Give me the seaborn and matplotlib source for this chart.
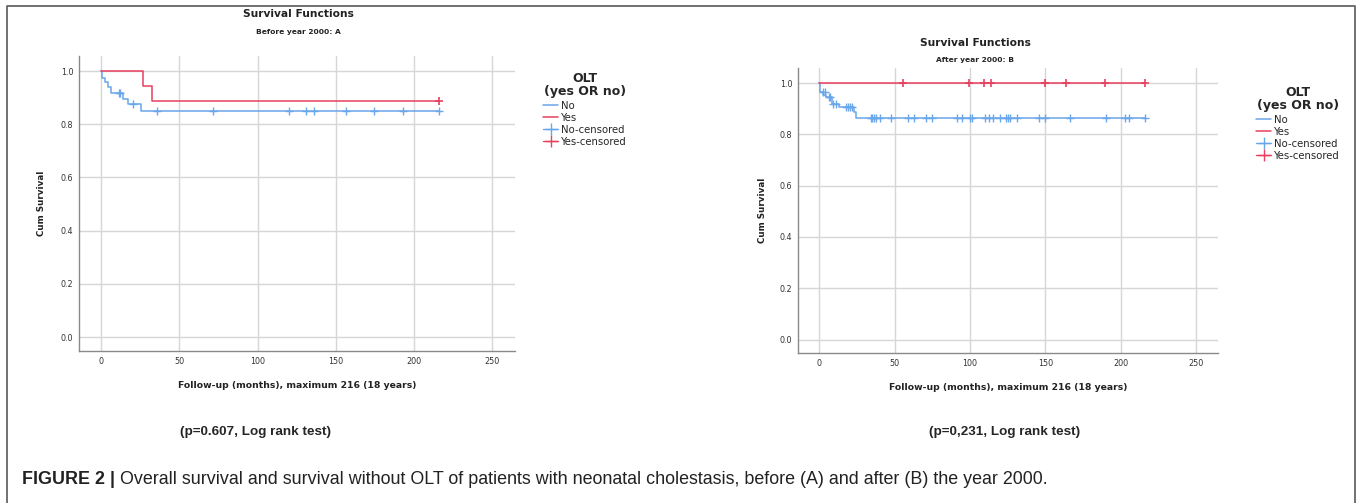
import matplotlib
matplotlib.use('Agg')
import matplotlib.pyplot as plt
import seaborn as sns
import pandas as pd
from matplotlib.lines import Line2D

# Panel A (before year 2000) - step curves and censored times
a_no_t = [0, 0.7, 2.2, 4.3, 6.4, 14, 17, 25.8, 216]
a_no_s = [1.0, 0.975, 0.96, 0.94, 0.919, 0.896, 0.875, 0.85, 0.85]
a_no_cens_t = [11.4, 12.4, 20.4, 35.5, 71.6, 120, 131, 136, 156.5, 174.5, 193, 216]
a_no_cens_s = [0.919, 0.919, 0.875, 0.85, 0.85, 0.85, 0.85, 0.85, 0.85, 0.85, 0.85, 0.85]
a_yes_t = [0, 26.7, 32.4, 216]
a_yes_s = [1.0, 0.944, 0.889, 0.889]
a_yes_cens_t = [216]
a_yes_cens_s = [0.889]

# Panel B (after year 2000)
b_no_t = [0, 0.4, 2.6, 4.4, 8.2, 13.2, 23.2, 24.7, 216]
b_no_s = [1.0, 0.965, 0.952, 0.945, 0.918, 0.905, 0.887, 0.865, 0.865]
b_no_cens_t = [2.2, 3.8, 6.2, 7.1, 8.8, 11, 17.7, 19, 20.3, 22,
               34, 35, 36, 37.5, 40, 47.5, 59, 63, 71, 75, 91.6, 95, 99.8, 101,
               110, 112.6, 115.5, 120, 123.6, 125, 126.5, 131, 145.7, 150, 166,
               190, 203, 205.4, 216]
b_no_cens_s = [0.965, 0.965, 0.945, 0.945, 0.918, 0.918, 0.905, 0.905, 0.905, 0.905] + [0.865] * 29
b_yes_t = [0, 216]
b_yes_s = [1.0, 1.0]
b_yes_cens_t = [55.4, 99.2, 109, 113.8, 149.9, 164, 189.8, 216]
b_yes_cens_s = [1.0] * 8

xticks = [0, 50, 100, 150, 200, 250]
yticks = [0.0, 0.2, 0.4, 0.6, 0.8, 1.0]
legend_labels = ['No', 'Yes', 'No-censored', 'Yes-censored']

BLUE = '#6aa6ea'
RED = '#e8405f'
GRID = '#d6d6d6'
ARIAL = ['Liberation Sans', 'DejaVu Sans']

sns.set_style('white')
plt.rcParams['font.family'] = ['DejaVu Sans']

fig = plt.figure(figsize=(13.57, 5.03), dpi=100)


def draw_panel(ax, no_t, no_s, no_ct, no_cs, yes_t, yes_s, yes_ct, yes_cs, ylim):
    df_no = pd.DataFrame({'t': no_t, 's': no_s})
    df_yes = pd.DataFrame({'t': yes_t, 's': yes_s})
    sns.lineplot(data=df_no, x='t', y='s', ax=ax, drawstyle='steps-post',
                 color=BLUE, lw=1.1, estimator=None, sort=False)
    sns.lineplot(data=df_yes, x='t', y='s', ax=ax, drawstyle='steps-post',
                 color=RED, lw=1.1, estimator=None, sort=False)
    ax.plot(no_ct, no_cs, ls='none', marker='+', ms=6, mew=1.0, color=BLUE)
    ax.plot(yes_ct, yes_cs, ls='none', marker='+', ms=6, mew=1.2, color=RED)

    ax.set_xlim(-14.1, 264.5)
    ax.set_ylim(*ylim)
    ax.set_xticks(xticks)
    ax.set_yticks(yticks)
    ax.set_yticklabels([f'{v:.1f}' for v in yticks])
    ax.grid(True, color=GRID, lw=1.0)
    ax.set_axisbelow(True)
    for s in ['top', 'right']:
        ax.spines[s].set_visible(False)
    for s in ['left', 'bottom']:
        ax.spines[s].set_color('#8a8a8a')
        ax.spines[s].set_linewidth(1.0)
    ax.tick_params(axis='both', length=0, labelsize=5.8, colors='#333333')
    ax.tick_params(axis='x', pad=4.5)
    ax.tick_params(axis='y', pad=4)
    ax.set_xlabel('Follow-up (months), maximum 216 (18 years)', fontsize=6.65,
                  fontweight='bold', color='#222222')
    ax.set_ylabel('Cum Survival', fontsize=6.3, fontweight='bold', color='#222222')


def add_legend(ax, x, y):
    handles = [
        Line2D([], [], color=BLUE, lw=1.1),
        Line2D([], [], color=RED, lw=1.1),
        Line2D([], [], color=BLUE, lw=1.0, marker='+', ms=9, mew=1.0),
        Line2D([], [], color=RED, lw=1.0, marker='+', ms=9, mew=1.0),
    ]
    leg = ax.legend(handles, legend_labels, loc='upper left',
                    bbox_to_anchor=(x, y), bbox_transform=fig.transFigure,
                    frameon=False, fontsize=7.3, title='OLT\n(yes OR no)',
                    handlelength=1.5, handletextpad=0.3, labelspacing=0.2,
                    borderpad=0, borderaxespad=0, alignment='center')
    t = leg.get_title()
    t.set_fontweight('bold')
    t.set_fontsize(9)
    t.set_multialignment('center')
    t.set_linespacing(1.0)
    leg._legend_box.sep = 2


# Panel A
axA = fig.add_axes([79 / 1357, 1 - 351 / 503, 436 / 1357, 295 / 503])
draw_panel(axA, a_no_t, a_no_s, a_no_cens_t, a_no_cens_s,
           a_yes_t, a_yes_s, a_yes_cens_t, a_yes_cens_s, (-0.0526, 1.0564))
axA.xaxis.set_label_coords(0.5, -0.102)
axA.yaxis.set_label_coords(-0.076, 0.5)
add_legend(axA, 543 / 1357, 1 - 72 / 503)

# Panel B
axB = fig.add_axes([798 / 1357, 1 - 353 / 503, 420 / 1357, 285 / 503])
draw_panel(axB, b_no_t, b_no_s, b_no_cens_t, b_no_cens_s,
           b_yes_t, b_yes_s, b_yes_cens_t, b_yes_cens_s, (-0.0526, 1.0585))
axB.xaxis.set_label_coords(0.5, -0.105)
axB.yaxis.set_label_coords(-0.074, 0.5)
add_legend(axB, 1256 / 1357, 1 - 86 / 503)

# titles
fig.text(298 / 1357, 1 - 14 / 503, 'Survival Functions', ha='center', va='center',
         fontsize=7.7, fontweight='bold', color='#222222')
fig.text(298 / 1357, 1 - 32 / 503, 'Before year 2000: A', ha='center', va='center',
         fontsize=5.4, fontweight='bold', color='#222222')
fig.text(975 / 1357, 1 - 43 / 503, 'Survival Functions', ha='center', va='center',
         fontsize=7.7, fontweight='bold', color='#222222')
fig.text(975 / 1357, 1 - 60 / 503, 'After year 2000: B', ha='center', va='center',
         fontsize=5.4, fontweight='bold', color='#222222')

# log rank p-values
fig.text(255 / 1357, 1 - 432 / 503, '(p=0.607, Log rank test)', ha='center', va='center',
         fontsize=9.7, fontweight='bold', family=ARIAL)
fig.text(1005 / 1357, 1 - 432 / 503, '(p=0,231, Log rank test)', ha='center', va='center',
         fontsize=9.7, fontweight='bold', family=ARIAL)

# caption: bold label followed by regular text
cap1 = fig.text(22 / 1357, 1 - 484 / 503, 'FIGURE 2 | ', ha='left', va='baseline',
                fontsize=12.9, fontweight='bold', color='#222222', family=ARIAL)
fig.add_artist(plt.Annotation(
    'Overall survival and survival without OLT of patients with neonatal '
    'cholestasis, before (A) and after (B) the year 2000.',
    xy=(1, 0), xycoords=cap1, ha='left', va='bottom',
    fontsize=12.9, color='#222222', family=ARIAL))

# frame around the figure (open at the bottom)
fx0, fx1, fy1 = 7 / 1357, 1355 / 1357, 1 - 6 / 503
fig.add_artist(Line2D([fx0, fx0, fx1, fx1], [0, fy1, fy1, 0],
                      transform=fig.transFigure, color='#666666', lw=1.3))

fig.savefig('out.png', dpi=100)
